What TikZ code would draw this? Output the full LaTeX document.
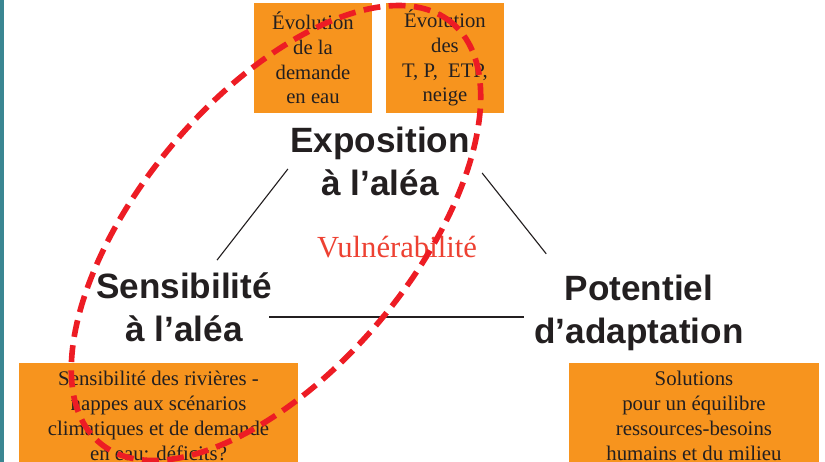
\documentclass[tikz,border=0pt]{standalone}
\usepackage{fontspec}
\setmainfont{Liberation Serif}
\setsansfont{Liberation Sans}
\definecolor{orangebox}{RGB}{247,148,30}
\definecolor{encre}{RGB}{35,31,32}
\definecolor{rouge}{RGB}{237,28,36}
\definecolor{rougetxt}{RGB}{237,65,50}
\definecolor{bleuvert}{RGB}{58,134,146}
\begin{document}
\begin{tikzpicture}[x=0.025cm, y=-0.025cm,
	boite/.style={fill=orangebox, text=encre, align=center, inner sep=0pt, font=\fontsize{14.7}{17.6}\selectfont},
	pole/.style={text=encre, align=center, inner sep=0pt, font=\sffamily\bfseries\fontsize{25}{30.6}\selectfont},
	trait/.style={line width=0.8pt, encre}]
	\useasboundingbox (0,0) rectangle (825,462);
	\clip (0,0) rectangle (825,462);
	\fill[bleuvert] (0,0) rectangle (4,462);
	% boites du haut
	\node[boite, minimum width=2.95cm, minimum height=2.75cm] (demande) at (313,58) {Évolution\\de la\\demande\\en eau};
	\node[boite, minimum width=2.95cm, minimum height=2.75cm] (climat) at (445,58) {Évolution\\des\\T, P,~ ETP,\\neige};
	% boites du bas
	\node[boite, anchor=north, minimum width=6.975cm, inner ysep=5.7pt, font=\fontsize{14.8}{17.8}\selectfont] (rivieres) at (158.5,363) {Sensibilité des rivières -\\nappes aux scénarios\\climatiques et de demande\\en eau: déficits?};
	\node[boite, anchor=north, minimum width=6.25cm, inner ysep=5.7pt, font=\fontsize{14.8}{17.8}\selectfont] (solutions) at (694,363) {Solutions\\pour un équilibre\\ressources-besoins\\humains et du milieu};
	% les trois poles
	\node[pole] (expo) at (380,161) {Exposition\\à l’aléa};
	\node[pole] (sensi) at (184,307) {Sensibilité\\à l’aléa};
	\node[pole] (adapt) at (639,313) {Potentiel\\d’adaptation};
	\node[text=rougetxt, font=\fontsize{21.8}{26}\selectfont] (vulne) at (397,247) {Vulnérabilité};
	\draw[trait] ([shift={(-2,8)}]expo.west) -- ([shift={(33,-12)}]sensi.north);
	\draw[trait] ([shift={(12,12)}]expo.east) -- ([shift={(12,-21)}]adapt.north west);
	\draw[trait] ([shift={(-3,10)}]sensi.east) -- ([shift={(-10,4)}]adapt.west);
	% zone de vulnerabilite
	\draw[rouge, line width=4pt, dash pattern=on 12pt off 6pt, rotate around={50:(276,233)}] (276,233) ellipse [x radius=6.85cm, y radius=3.4cm];
\end{tikzpicture}
\end{document}
